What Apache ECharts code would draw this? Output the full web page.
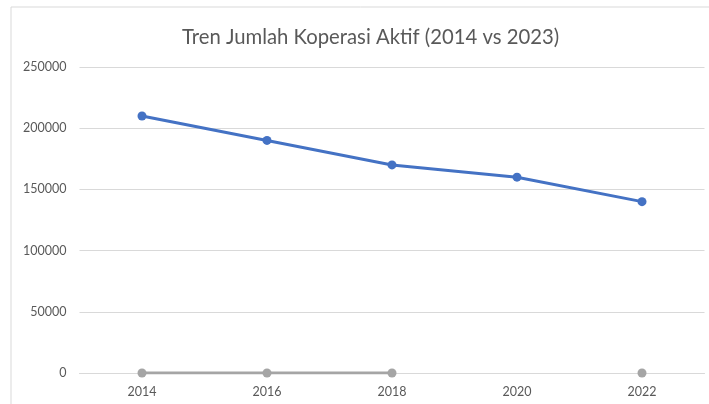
<!DOCTYPE html>
<html>
<head>
<meta charset="utf-8">
<script src="https://cdn.jsdelivr.net/npm/echarts@6/dist/echarts.min.js"></script>
<style>
  html, body { margin: 0; padding: 0; background: #fff; }
  #chart { width: 709px; height: 404px; }
</style>
</head>
<body>
<div id="chart"></div>
<script>
  // data
  var years = ['2014', '2016', '2018', '2020', '2022'];
  var koperasiAktif = [210000, 190000, 170000, 160000, 140000];
  var seriesLain = [0, 0, 0, null, 0];
  var yTicks = [0, 50000, 100000, 150000, 200000, 250000];

  var chart = echarts.init(document.getElementById('chart'));
  var font = 'Lato, "Open Sans", sans-serif';

  chart.setOption({
    animation: false,
    title: {
      text: 'Tren Jumlah Koperasi Aktif (2014 vs 2023)',
      left: 177,
      top: 22,
      textStyle: { fontFamily: font, fontSize: 20.3, fontWeight: 'normal', color: '#595959' }
    },
    graphic: [{
      type: 'rect',
      shape: { x: 11, y: 7, width: 760, height: 460 },
      style: { fill: 'none', stroke: '#d9d9d9', lineWidth: 1 },
      silent: true
    }],
    grid: { left: 79.5, right: 4.5, top: 67, bottom: 31, containLabel: false },
    xAxis: {
      type: 'category',
      data: years,
      boundaryGap: true,
      axisLine: { show: true, lineStyle: { color: '#d9d9d9', width: 1 } },
      axisTick: { show: false },
      axisLabel: { fontFamily: font, fontSize: 12.5, color: '#595959', margin: 12 }
    },
    yAxis: {
      type: 'value',
      min: yTicks[0],
      max: yTicks[yTicks.length - 1],
      interval: 50000,
      axisLine: { show: false },
      axisTick: { show: false },
      axisLabel: {
        fontFamily: font, fontSize: 12.5, color: '#595959', margin: 13,
        formatter: function (v) { return String(v); }
      },
      splitLine: { lineStyle: { color: '#d9d9d9', width: 1 } }
    },
    series: [
      {
        name: 'Koperasi Aktif',
        type: 'line',
        data: koperasiAktif,
        symbol: 'circle',
        symbolSize: 9,
        lineStyle: { width: 3, color: '#4472C4' },
        itemStyle: { color: '#4472C4' }
      },
      {
        name: 'Lainnya',
        type: 'line',
        data: seriesLain,
        connectNulls: false,
        symbol: 'circle',
        symbolSize: 9,
        lineStyle: { width: 3, color: '#A5A5A5' },
        itemStyle: { color: '#A5A5A5' }
      }
    ]
  });
</script>
</body>
</html>
